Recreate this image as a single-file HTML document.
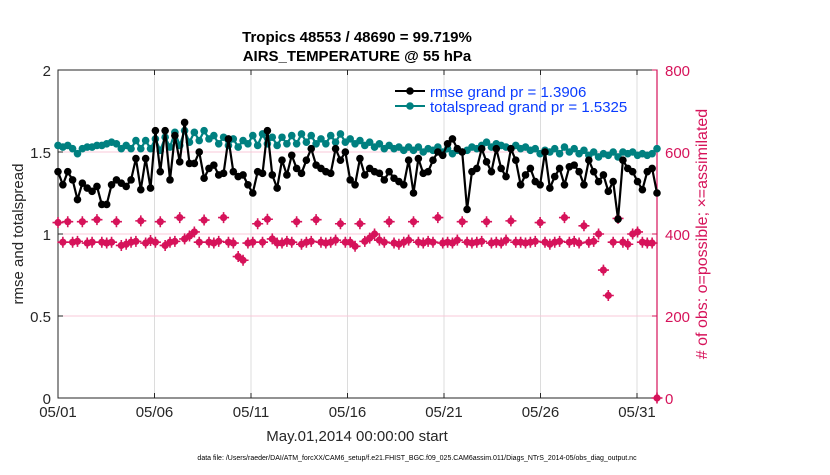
<!DOCTYPE html>
<html><head><meta charset="utf-8">
<style>
body{margin:0;background:#fff;font-family:"Liberation Sans",sans-serif;}
svg text{font-family:"Liberation Sans",sans-serif;}
</style></head>
<body>
<svg id="chart" width="830" height="470" xmlns="http://www.w3.org/2000/svg"></svg>
<script>
const xTickLabels=["05/01","05/06","05/11","05/16","05/21","05/26","05/31"];
const xTickDays=[0,5,10,15,20,25,30];
const yLeftTicks=[0,0.5,1,1.5,2];
const yRightTicks=[0,200,400,600,800];
const rmse=[1.38,1.30,1.38,1.33,1.21,1.31,1.28,1.26,
1.29,1.18,1.18,1.30,1.33,1.31,1.29,1.33,
1.46,1.27,1.46,1.28,1.63,1.38,1.63,1.33,
1.60,1.44,1.68,1.43,1.43,1.50,1.34,1.40,
1.42,1.36,1.37,1.58,1.38,1.35,1.36,1.30,
1.25,1.38,1.37,1.63,1.36,1.28,1.45,1.36,
1.48,1.40,1.37,1.45,1.52,1.42,1.40,1.38,
1.37,1.52,1.45,1.50,1.33,1.30,1.46,1.36,
1.40,1.38,1.37,1.33,1.38,1.34,1.32,1.30,
1.45,1.25,1.46,1.37,1.38,1.45,1.50,1.48,
1.55,1.58,1.52,1.50,1.15,1.38,1.40,1.52,
1.44,1.38,1.52,1.40,1.35,1.52,1.45,1.30,
1.36,1.40,1.32,1.30,1.50,1.28,1.35,1.40,
1.30,1.41,1.42,1.38,1.30,1.45,1.38,1.32,
1.36,1.26,1.32,1.09,1.45,1.40,1.38,1.32,
1.27,1.38,1.40,1.25];
const spread=[1.54,1.53,1.54,1.52,1.49,1.52,1.53,1.53,
1.54,1.54,1.55,1.56,1.55,1.52,1.54,1.52,
1.57,1.52,1.57,1.52,1.58,1.51,1.59,1.53,
1.62,1.54,1.63,1.56,1.62,1.57,1.63,1.58,
1.60,1.55,1.59,1.54,1.58,1.53,1.57,1.55,
1.60,1.54,1.61,1.55,1.59,1.54,1.59,1.55,
1.60,1.55,1.61,1.56,1.60,1.55,1.58,1.55,
1.60,1.56,1.61,1.56,1.58,1.55,1.57,1.54,
1.56,1.53,1.55,1.52,1.54,1.52,1.53,1.51,
1.53,1.51,1.53,1.50,1.52,1.51,1.53,1.50,
1.52,1.49,1.51,1.50,1.51,1.53,1.52,1.54,
1.56,1.53,1.55,1.54,1.53,1.52,1.54,1.52,
1.53,1.51,1.52,1.49,1.51,1.50,1.52,1.49,
1.53,1.50,1.52,1.49,1.51,1.48,1.50,1.47,
1.49,1.48,1.50,1.47,1.50,1.49,1.50,1.48,
1.49,1.48,1.49,1.52];
const obs=[428,380,430,380,382,430,378,380,
435,380,378,380,430,372,375,380,
382,432,378,384,380,430,372,380,
382,440,388,395,405,380,434,380,
378,382,440,380,378,345,336,378,
380,425,380,436,388,378,378,382,
380,430,375,380,382,435,380,378,
380,385,425,380,380,370,425,382,
390,400,385,380,430,378,375,380,
385,430,380,378,382,380,440,378,
380,378,385,430,380,378,380,382,
430,378,380,378,385,432,380,380,
378,380,382,428,380,375,380,382,
440,380,382,378,420,380,382,400,
312,250,380,438,380,375,400,405,
380,378,378,0];
const NS="http://www.w3.org/2000/svg";
const svg=document.getElementById('chart');
const X0=58,X1=657,Y0=398,Y1=70,DAYPX=19.3;
const xDay=d=>X0+d*DAYPX;
const xIdx=i=>X0+i*(X1-X0)/(obs.length-1);
const yL=v=>Y0-(v/2)*(Y0-Y1);
const yR=v=>Y0-(v/800)*(Y0-Y1);
function el(tag,attrs,parent){const e=document.createElementNS(NS,tag);for(const k in attrs)e.setAttribute(k,attrs[k]);(parent||svg).appendChild(e);return e;}
function txt(s,attrs){const t=el('text',attrs);t.textContent=s;return t;}
xTickDays.forEach((d,i)=>{if(d===0)return;const l=el('line',{x1:xDay(d),x2:xDay(d),y1:Y1,y2:Y0,stroke:'#dcdcdc','stroke-width':1});

});
yLeftTicks.forEach(v=>{if(v===0||v===2)return;const l=el('line',{x1:X0,x2:X1,y1:yL(v),y2:yL(v),stroke:'#f8c8d8','stroke-width':1});

});
const box=el('rect',{x:X0,y:Y1,width:X1-X0,height:Y0-Y1,fill:'none',stroke:'#262626','stroke-width':1});


el('line',{x1:X1,x2:X1,y1:Y1,y2:Y0,stroke:'#d6135a','stroke-width':1.2});
xTickDays.forEach((d,i)=>{el('line',{x1:xDay(d),x2:xDay(d),y1:Y0,y2:Y0-5,stroke:'#262626'});
el('line',{x1:xDay(d),x2:xDay(d),y1:Y1,y2:Y1+5,stroke:'#262626'});
const t=txt(xTickLabels[i],{x:xDay(d),y:Y0+19,'font-size':15,'text-anchor':'middle',fill:'#262626'});

});
yLeftTicks.forEach(v=>{el('line',{x1:X0,x2:X0+5,y1:yL(v),y2:yL(v),stroke:'#262626'});
const t=txt(String(v),{x:X0-7,y:yL(v)+6,'font-size':15,'text-anchor':'end',fill:'#262626'});

});
yRightTicks.forEach(v=>{el('line',{x1:X1,x2:X1-5,y1:yR(v),y2:yR(v),stroke:'#d6135a'});
const t=txt(String(v),{x:X1+8,y:yR(v)+6,'font-size':15,'text-anchor':'start',fill:'#d6135a'});

});
obs.forEach((v,i)=>{const cx=xIdx(i),cy=yR(v);
const g=el('g',{});


el('circle',{cx:cx,cy:cy,r:3.6,fill:'#d6135a'},g);
el('path',{d:`M${cx-5.5} ${cy}H${cx+5.5}M${cx} ${cy-5.5}V${cy+5.5}`,stroke:'#d6135a','stroke-width':1.6},g);});
function series(data,color,name){
const pts=data.map((v,i)=>xIdx(i)+','+yL(v)).join(' ');
const pl=el('polyline',{points:pts,fill:'none',stroke:color,'stroke-width':2.2});


data.forEach((v,i)=>{const c=el('circle',{cx:xIdx(i),cy:yL(v),r:3.8,fill:color});

});}
series(spread,'#008080','totalspread');
series(rmse,'#000000','rmse');
const lg=el('g',{});


el('line',{x1:395,x2:425,y1:91,y2:91,stroke:'#000','stroke-width':2},lg);
el('circle',{cx:410,cy:91,r:3.8,fill:'#000'},lg);
el('line',{x1:395,x2:425,y1:106,y2:106,stroke:'#008080','stroke-width':2},lg);
el('circle',{cx:410,cy:106,r:3.8,fill:'#008080'},lg);
const l1=txt('rmse grand pr = 1.3906',{x:430,y:97,'font-size':15,fill:'#0a3cff'});


const l2=txt('totalspread grand pr = 1.5325',{x:430,y:112,'font-size':15,fill:'#0a3cff'});


const t1=txt('Tropics 48553 / 48690 = 99.719%',{x:357,y:42,'font-size':15,'font-weight':'bold','text-anchor':'middle',fill:'#000'});


const t2=txt('AIRS_TEMPERATURE @ 55 hPa',{x:357,y:61,'font-size':15,'font-weight':'bold','text-anchor':'middle',fill:'#000'});


const yl=txt('rmse and totalspread',{x:0,y:0,'font-size':15,'text-anchor':'middle',fill:'#262626',transform:'translate(23,234) rotate(-90)'});


const yr=txt('# of obs: o=possible; \u00d7=assimilated',{x:0,y:0,'font-size':16,'text-anchor':'middle',fill:'#d6135a',transform:'translate(707,234) rotate(-90)'});


const xl=txt('May.01,2014 00:00:00 start',{x:357,y:441,'font-size':15,'text-anchor':'middle',fill:'#262626'});


const ft=txt('data file: /Users/raeder/DAI/ATM_forcXX/CAM6_setup/f.e21.FHIST_BGC.f09_025.CAM6assim.011/Diags_NTrS_2014-05/obs_diag_output.nc',{x:417,y:460,'font-size':7,'text-anchor':'middle',fill:'#000'});


</script>
</body></html>
